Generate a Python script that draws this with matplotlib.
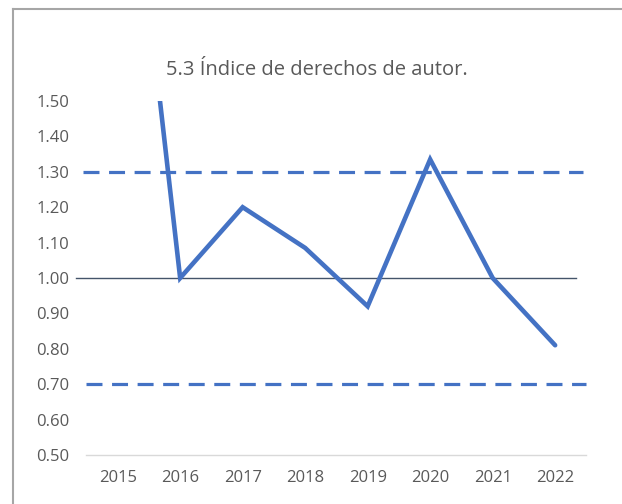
import matplotlib
matplotlib.use("Agg")
import matplotlib.pyplot as plt
from matplotlib.lines import Line2D

years = ["2015", "2016", "2017", "2018", "2019", "2020", "2021", "2022"]
index_values = [2.55, 1.00, 1.20, 1.085, 0.92, 1.335, 1.00, 0.81]
upper_limit = 1.30
lower_limit = 0.70
reference = 1.00
yticks = [0.50, 0.60, 0.70, 0.80, 0.90, 1.00, 1.10, 1.20, 1.30, 1.40, 1.50]
title = "5.3 Índice de derechos de autor."

plt.rcParams['font.family'] = ['Open Sans', 'DejaVu Sans']

fig = plt.figure(figsize=(6.22, 5.04), dpi=100)
ax = fig.add_axes([86.4 / 622, 49 / 504, 500 / 622, 354 / 504])

x = list(range(len(years)))
blue = "#4472C4"
gray_txt = "#595959"

ax.plot(x, index_values, color=blue, lw=3.3, solid_capstyle='round',
        solid_joinstyle='miter', zorder=3)

ax.plot([-0.55, 7.45], [upper_limit, upper_limit], color=blue, lw=2.3,
        dashes=(5, 3), clip_on=False, zorder=2)
ax.plot([-0.5, 7.5], [lower_limit, lower_limit], color=blue, lw=2.3,
        dashes=(5, 3), clip_on=False, zorder=2)
ax.plot([-0.67, 7.33], [reference, reference], color="#44546A", lw=1.0,
        clip_on=False, zorder=2)

ax.set_xlim(-0.5, len(years) - 0.5)
ax.set_ylim(0.5, 1.5)
ax.set_xticks(x)
ax.set_xticklabels(years)
ax.set_yticks(yticks)
ax.set_yticklabels([f"{v:.2f}" for v in yticks])
ax.tick_params(axis='both', length=0, labelsize=12, colors=gray_txt)
ax.tick_params(axis='y', pad=12.5)
ax.tick_params(axis='x', pad=10.5)

for s in ['top', 'right', 'left']:
    ax.spines[s].set_visible(False)
ax.spines['bottom'].set_color("#D9D9D9")
ax.spines['bottom'].set_linewidth(1.0)

fig.text(317 / 622, 1 - 70 / 504, title, ha='center', va='center',
         fontsize=14.5, color=gray_txt)

# chart frame
fig.add_artist(Line2D([13 / 622, 13 / 622], [0, 1 - 9 / 504],
                      color="#A6A6A6", lw=1.5, transform=fig.transFigure))
fig.add_artist(Line2D([13 / 622, 1], [1 - 9 / 504, 1 - 9 / 504],
                      color="#A6A6A6", lw=1.5, transform=fig.transFigure))

fig.savefig("out.png", dpi=100)
